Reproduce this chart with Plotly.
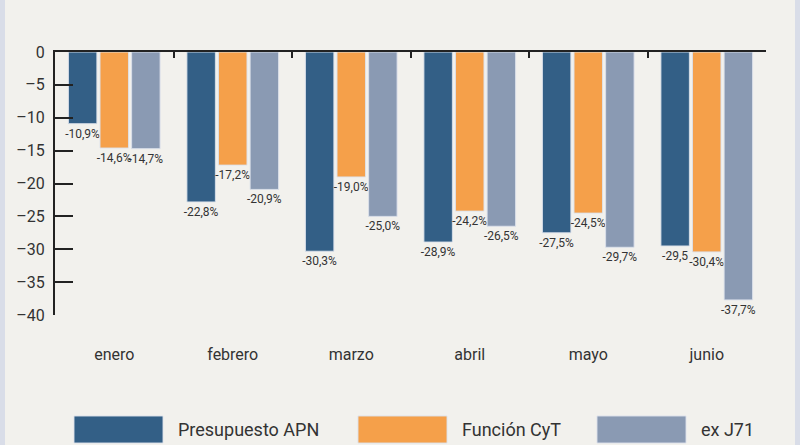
import plotly.graph_objects as go

months = ["enero", "febrero", "marzo", "abril", "mayo", "junio"]
series_names = ["Presupuesto APN", "Función CyT", "ex J71"]
apn = [-10.9, -22.8, -30.3, -28.9, -27.5, -29.5]
cyt = [-14.6, -17.2, -19.0, -24.2, -24.5, -30.4]
j71 = [-14.7, -20.9, -25.0, -26.5, -29.7, -37.7]
apn_labels = ["-10,9%", "-22,8%", "-30,3%", "-28,9%", "-27,5%", "-29,5"]
cyt_labels = ["-14,6%", "-17,2%", "-19,0%", "-24,2%", "-24,5%", "-30,4%"]
j71_labels = ["-14,7%", "-20,9%", "-25,0%", "-26,5%", "-29,7%", "-37,7%"]
y_ticks = [0, -5, -10, -15, -20, -25, -30, -35, -40]

colors = ["#335f86", "#f5a04a", "#8a9ab3"]
BG = "#f2f1ed"
FONT = "Roboto"
W, H = 800, 445
L, R, T, B = 55, 34, 52, 130

fig = go.Figure()
for name, vals, labs, col in zip(series_names, [apn, cyt, j71],
                                 [apn_labels, cyt_labels, j71_labels], colors):
    fig.add_trace(go.Bar(
        x=list(range(len(months))), y=vals, name=name,
        marker=dict(color=col, line=dict(color="rgba(220,225,235,0.9)", width=1)),
        text=labs, textposition="outside", cliponaxis=False, textangle=0,
        textfont=dict(family=FONT, size=12, color="#333333"),
        showlegend=False,
    ))

# dummy trace for top axis
fig.add_trace(go.Scatter(x=[0], y=[0], xaxis="x2", mode="markers",
                         marker=dict(opacity=0), showlegend=False, hoverinfo="skip"))

fig.update_layout(
    width=W, height=H,
    margin=dict(l=L, r=R, t=T, b=B),
    paper_bgcolor=BG, plot_bgcolor=BG,
    barmode="group", bargap=0.2, bargroupgap=0.1,
    uniformtext=dict(minsize=12, mode="show"),
    font=dict(family=FONT, color="#333333"),
    xaxis=dict(range=[-0.5, 5.5], tickvals=list(range(len(months))), ticktext=months,
               showline=False, showgrid=False, zeroline=False,
               ticks="outside", ticklen=25, tickcolor="rgba(0,0,0,0)",
               tickfont=dict(family=FONT, size=16, color="#333333")),
    xaxis2=dict(range=[-0.5, 5.5], overlaying="x", side="top", anchor="y",
                tickvals=[i + 0.5 for i in range(len(months))],
                showticklabels=False, showline=True, linecolor="#222222", linewidth=2,
                ticks="inside", ticklen=6, tickwidth=2, tickcolor="#222222",
                showgrid=False, zeroline=False),
    yaxis=dict(range=[-40, 0], tickvals=y_ticks, ticktext=[str(v).replace("-", "–") for v in y_ticks],
               showline=True, linecolor="#222222", linewidth=2,
               ticks="inside", ticklen=18, tickwidth=2, tickcolor="#222222",
               ticklabelstandoff=5,
               showgrid=False, zeroline=False,
               tickfont=dict(family=FONT, size=16, color="#333333")),
)

pw, ph = W - L - R, H - T - B
def px(x):
    return (x - L) / pw
def py(y):
    return (H - B - y) / ph

# side strips
for x0, x1 in [(0, 5), (795, 800)]:
    fig.add_shape(type="rect", xref="paper", yref="paper",
                  x0=px(x0), x1=px(x1), y0=py(H), y1=py(0),
                  fillcolor="#d9dde8", line=dict(width=0), layer="below")

# legend
leg_x = [74, 358, 597]
for name, col, lx in zip(series_names, colors, leg_x):
    fig.add_shape(type="rect", xref="paper", yref="paper",
                  x0=px(lx), x1=px(lx + 89), y0=py(443), y1=py(416),
                  fillcolor=col, line=dict(color="rgba(220,225,235,0.9)", width=1))
    fig.add_annotation(xref="paper", yref="paper", x=px(lx + 102), y=py(429),
                       text=name, showarrow=False, xanchor="left", yanchor="middle",
                       font=dict(family=FONT, size=18, color="#333333"))

fig.write_html("out.html", config={"displayModeBar": False},
               post_script="document.body.style.margin='0';document.body.style.overflow='hidden';")
